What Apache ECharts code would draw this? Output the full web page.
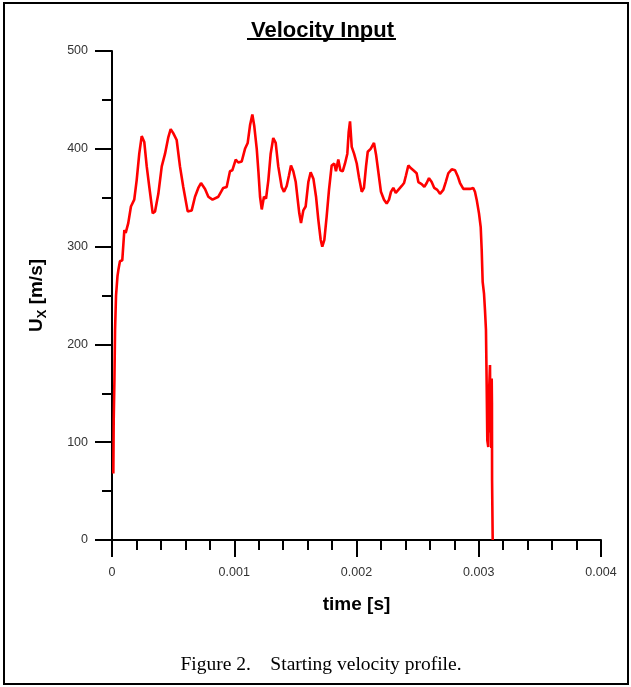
<!DOCTYPE html>
<html>
<head>
<meta charset="utf-8">
<title>Velocity Input</title>
<script src="https://cdn.jsdelivr.net/npm/echarts@6/dist/echarts.min.js"></script>
<style>
	html, body { margin: 0; padding: 0; background: #fff; }
	#chart { width: 631px; height: 687px; }
</style>
</head>
<body>
<div id="chart"></div>
<script>
// time in microseconds
var timeMicro = [11, 14, 20, 25, 33, 45, 52, 65, 84, 101, 112, 133, 155, 182, 202, 223, 243, 264, 284, 305,
	333, 352, 379, 407, 434, 461, 480, 501, 529, 556, 583, 619, 652, 679, 706, 728, 761, 788, 822, 870,
	910, 938, 965, 984, 1012, 1033, 1061, 1088, 1110, 1129, 1148, 1164, 1184, 1197, 1211, 1225, 1243, 1260, 1279, 1298,
	1319, 1339, 1360, 1388, 1407, 1429, 1448, 1464, 1483, 1503, 1519, 1532, 1546, 1565, 1584, 1606, 1625, 1648, 1669, 1688,
	1707, 1720, 1737, 1756, 1775, 1797, 1818, 1832, 1851, 1868, 1887, 1906, 1925, 1936, 1947, 1961, 1980, 2002, 2020, 2043,
	2061, 2078, 2092, 2116, 2143, 2160, 2178, 2200, 2225, 2247, 2266, 2282, 2301, 2321, 2342, 2370, 2389, 2405, 2424, 2446,
	2465, 2492, 2506, 2533, 2555, 2574, 2593, 2615, 2636, 2661, 2683, 2710, 2730, 2751, 2779, 2806, 2828, 2847, 2874, 2901,
	2928, 2955, 2969, 2983, 3002, 3016, 3024, 3032, 3043, 3051, 3059, 3065, 3070, 3078, 3084, 3092, 3096, 3100, 3103, 3106,
	3108, 3109, 3114];
// Ux in m/s
var velocity = [68, 123, 165, 215, 250, 270, 276, 285, 286, 317, 314, 324, 341, 348, 368, 395, 413, 407, 382, 361,
	334, 336, 354, 382, 395, 412, 420, 416, 409, 382, 361, 336, 337, 351, 360, 365, 359, 351, 348, 351,
	360, 361, 377, 378, 389, 386, 387, 400, 406, 424, 435, 423, 400, 378, 351, 338, 351, 349, 368, 395,
	411, 406, 382, 361, 356, 362, 373, 383, 377, 366, 348, 334, 324, 337, 341, 366, 376, 369, 351, 327,
	307, 300, 307, 331, 358, 383, 385, 377, 389, 378, 377, 385, 395, 417, 428, 402, 395, 385, 371, 356,
	360, 382, 397, 400, 406, 394, 377, 356, 348, 344, 348, 356, 360, 355, 358, 362, 365, 373, 383, 380,
	378, 375, 366, 364, 361, 365, 370, 366, 360, 358, 354, 358, 366, 375, 379, 378, 372, 365, 359, 359,
	359, 360, 356, 348, 334, 320, 297, 264, 252, 235, 215, 157, 102, 95, 150, 179, 110, 160, 94, 165,
	140, 61, 0];
var xTicks = [0, 0.001, 0.002, 0.003, 0.004];
var yTicks = [0, 100, 200, 300, 400, 500];

// build [t, v] pairs, time back to seconds
var lineData = [];
for (var i = 0; i < timeMicro.length; i++) {
	lineData.push([timeMicro[i] / 1e6, velocity[i]]);
}

var axisFont = 'Liberation Sans, Arial, sans-serif';
var blackLine = { color: '#000', width: 2 };

var option = {
	animation: false,
	backgroundColor: '#fff',
	title: {
		text: 'Velocity Input',
		left: 246,
		top: 15,
		textStyle: { fontFamily: axisFont, fontWeight: 'bold', fontSize: 22, color: '#000' }
	},
	grid: { left: 112, right: 30, top: 51, bottom: 147 },
	xAxis: {
		type: 'value',
		min: xTicks[0],
		max: xTicks[xTicks.length - 1],
		interval: xTicks[1] - xTicks[0],
		name: 'time [s]',
		nameLocation: 'middle',
		nameGap: 55,
		nameTextStyle: { fontFamily: axisFont, fontWeight: 'bold', fontSize: 19, color: '#000' },
		axisLine: { lineStyle: blackLine },
		axisTick: { length: 17, lineStyle: blackLine },
		minorTick: { show: true, splitNumber: 5, length: 10, lineStyle: blackLine },
		axisLabel: { margin: 26, fontFamily: axisFont, fontSize: 12.5, color: '#333' },
		splitLine: { show: false }
	},
	yAxis: {
		type: 'value',
		min: yTicks[0],
		max: yTicks[yTicks.length - 1],
		interval: yTicks[1] - yTicks[0],
		name: '{a|U}{b|X}{a| [m/s]}',
		nameLocation: 'middle',
		nameRotate: 90,
		nameGap: 63,
		nameTextStyle: {
			rich: {
				a: { fontFamily: axisFont, fontWeight: 'bold', fontSize: 19, color: '#000', lineHeight: 24 },
				b: { fontFamily: axisFont, fontWeight: 'bold', fontSize: 13, color: '#000', verticalAlign: 'bottom', lineHeight: 24 }
			}
		},
		axisLine: { lineStyle: blackLine },
		axisTick: { length: 17, lineStyle: blackLine },
		minorTick: { show: true, splitNumber: 2, length: 10, lineStyle: blackLine },
		axisLabel: { margin: 24, fontFamily: axisFont, fontSize: 12.5, color: '#333' },
		splitLine: { show: false }
	},
	series: [{
		name: 'Ux',
		type: 'line',
		data: lineData,
		showSymbol: false,
		lineStyle: { color: '#ff0000', width: 2.6 },
		z: 1
	}],
	graphic: [
		// frame round the figure
		{ type: 'rect', shape: { x: 4, y: 3, width: 624, height: 681 }, style: { fill: null, stroke: '#000', lineWidth: 2 }, silent: true },
		// title underline
		{ type: 'line', shape: { x1: 247, y1: 39, x2: 396, y2: 39 }, style: { stroke: '#000', lineWidth: 2 }, silent: true },
		// caption
		{ type: 'text', x: 321, y: 665, style: { text: 'Figure 2.    Starting velocity profile.', align: 'center', verticalAlign: 'middle', font: '19.5px "Liberation Serif", "Times New Roman", serif', fill: '#000' } }
	]
};

var chart = echarts.init(document.getElementById('chart'));
chart.setOption(option);
</script>
</body>
</html>
